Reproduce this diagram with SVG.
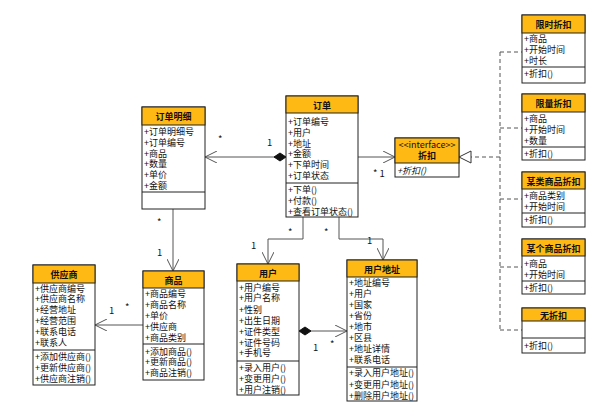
<svg xmlns="http://www.w3.org/2000/svg" width="603" height="402" viewBox="0 0 603 402">
<style>
.box{fill:#fff;stroke:#222;stroke-width:1}
.hd{fill:#FFB915;stroke:#222;stroke-width:1}
.sep{stroke:#222;stroke-width:1}
text{font-family:"Noto Sans CJK SC","DejaVu Sans",sans-serif;font-size:9px;fill:#111}
.t{font-weight:bold;text-anchor:middle}
.it{font-style:italic}
.ln{fill:none;stroke:#555;stroke-width:1}
.dl{fill:none;stroke:#555;stroke-width:1;stroke-dasharray:4,3}
.lb{font-size:9.5px;fill:#111}
</style>
<defs>
<marker id="open" markerWidth="14" markerHeight="12" refX="12" refY="6" orient="auto" markerUnits="userSpaceOnUse"><path d="M0,0 L12,6 L0,12" fill="none" stroke="#555" stroke-width="1"/></marker>
<marker id="dia" markerWidth="16" markerHeight="10" refX="1" refY="5" orient="auto" markerUnits="userSpaceOnUse"><path d="M1,5 L7,1 L13,5 L7,9 Z" fill="#111" stroke="#111"/></marker>
<marker id="tri" markerWidth="14" markerHeight="14" refX="13" refY="7" orient="auto" markerUnits="userSpaceOnUse"><path d="M1,1 L13,7 L1,13 Z" fill="#fff" stroke="#333" stroke-width="1"/></marker>
</defs>

<g id="connectors">
<path class="ln" d="M286,157 L205,157" marker-start="url(#dia)" marker-end="url(#open)"/>
<text class="lb" x="267" y="146">1</text><text class="lb" x="218" y="143">*</text>
<path class="ln" d="M358,157 L395,157" marker-end="url(#open)"/>
<text class="lb" x="373" y="177">* 1</text>
<path class="ln" d="M173,209 L173,271" marker-end="url(#open)"/>
<text class="lb" x="157" y="226">*</text><text class="lb" x="157" y="256">1</text>
<path class="ln" d="M143,325 L95,325" marker-end="url(#open)"/>
<text class="lb" x="109" y="314">1</text><text class="lb" x="125" y="311">*</text>
<path class="ln" d="M303,217 L303,239 L268,239 L268,264" marker-end="url(#open)"/>
<text class="lb" x="288" y="236">*</text><text class="lb" x="251" y="249">1</text>
<path class="ln" d="M339,217 L339,239 L383,239 L383,260" marker-end="url(#open)"/>
<text class="lb" x="324" y="236">*</text><text class="lb" x="367" y="244">1</text>
<path class="ln" d="M299,331 L347,331" marker-start="url(#dia)" marker-end="url(#open)"/>
<text class="lb" x="313" y="351">1</text><text class="lb" x="330" y="348">*</text>
<path class="dl" d="M500,157 L459,157" marker-end="url(#tri)"/>
<path class="dl" d="M500,52 L500,330"/>
<path class="dl" d="M500,52 L522,52 M500,128 L522,128 M500,199 L522,199 M500,267 L522,267 M500,330 L522,330"/>
</g>

<g id="order-detail">
<rect class="box" x="142" y="107" width="63" height="102"/>
<rect class="hd" x="142" y="107" width="63" height="18"/>
<text class="t" x="173.5" y="120">订单明细</text>
<text x="144" y="134.5">+订单明细号</text>
<text x="144" y="145.5">+订单编号</text>
<text x="144" y="156.5">+商品</text>
<text x="144" y="167">+数量</text>
<text x="144" y="177.5">+单价</text>
<text x="144" y="188.5">+金额</text>
<line class="sep" x1="142" y1="192" x2="205" y2="192"/>
</g>

<g id="order">
<rect class="box" x="286" y="96" width="72" height="121"/>
<rect class="hd" x="286" y="96" width="72" height="17"/>
<text class="t" x="322" y="108.5">订单</text>
<text x="288" y="124.5">+订单编号</text>
<text x="288" y="135.5">+用户</text>
<text x="288" y="146.5">+地址</text>
<text x="288" y="157">+金额</text>
<text x="288" y="167.5">+下单时间</text>
<text x="288" y="178.5">+订单状态</text>
<line class="sep" x1="286" y1="183" x2="358" y2="183"/>
<text x="288" y="192.5">+下单()</text>
<text x="288" y="203.5">+付款()</text>
<text x="288" y="214.5">+查看订单状态()</text>
</g>

<g id="discount">
<rect class="box" x="395" y="138" width="64" height="39"/>
<rect class="hd" x="395" y="138" width="64" height="25"/>
<text class="t" x="427" y="148" style="font-weight:normal">&lt;&lt;interface&gt;&gt;</text>
<text class="t" x="427" y="159">折扣</text>
<text class="it" x="397" y="173.5">+折扣()</text>
</g>

<g id="limited-time">
<rect class="box" x="522" y="15" width="63" height="68"/>
<rect class="hd" x="522" y="15" width="63" height="18"/>
<text class="t" x="553.5" y="28">限时折扣</text>
<text x="524" y="41.5">+商品</text>
<text x="524" y="52.5">+开始时间</text>
<text x="524" y="63.5">+时长</text>
<line class="sep" x1="522" y1="67" x2="585" y2="67"/>
<text x="524" y="77">+折扣()</text>
</g>

<g id="limited-qty">
<rect class="box" x="522" y="94" width="63" height="66"/>
<rect class="hd" x="522" y="94" width="63" height="18"/>
<text class="t" x="553.5" y="107">限量折扣</text>
<text x="524" y="121.5">+商品</text>
<text x="524" y="132.5">+开始时间</text>
<text x="524" y="143.5">+数量</text>
<line class="sep" x1="522" y1="147" x2="585" y2="147"/>
<text x="524" y="156.5">+折扣()</text>
</g>

<g id="category-discount">
<rect class="box" x="522" y="172" width="63" height="55"/>
<rect class="hd" x="522" y="172" width="63" height="17"/>
<text class="t" x="553.5" y="184.5">某类商品折扣</text>
<text x="524" y="198.5">+商品类别</text>
<text x="524" y="209.5">+开始时间</text>
<line class="sep" x1="522" y1="213" x2="585" y2="213"/>
<text x="524" y="222.5">+折扣()</text>
</g>

<g id="item-discount">
<rect class="box" x="522" y="239" width="63" height="55"/>
<rect class="hd" x="522" y="239" width="63" height="17"/>
<text class="t" x="553.5" y="251.5">某个商品折扣</text>
<text x="524" y="266.5">+商品</text>
<text x="524" y="277.5">+开始时间</text>
<line class="sep" x1="522" y1="281" x2="585" y2="281"/>
<text x="524" y="290.5">+折扣()</text>
</g>

<g id="no-discount">
<rect class="box" x="522" y="308" width="63" height="45"/>
<rect class="hd" x="522" y="308" width="63" height="13"/>
<text class="t" x="553.5" y="318.5">无折扣</text>
<line class="sep" x1="522" y1="338" x2="585" y2="338"/>
<text x="524" y="348.5">+折扣()</text>
</g>

<g id="supplier">
<rect class="box" x="33" y="265" width="62" height="120"/>
<rect class="hd" x="33" y="265" width="62" height="18"/>
<text class="t" x="64" y="278">供应商</text>
<text x="35" y="291.5">+供应商编号</text>
<text x="35" y="301.5">+供应商名称</text>
<text x="35" y="312.5">+经营地址</text>
<text x="35" y="323.5">+经营范围</text>
<text x="35" y="334.5">+联系电话</text>
<text x="35" y="345.5">+联系人</text>
<line class="sep" x1="33" y1="350" x2="95" y2="350"/>
<text x="35" y="359.5">+添加供应商()</text>
<text x="35" y="370.5">+更新供应商()</text>
<text x="35" y="381.5">+供应商注销()</text>
</g>

<g id="product">
<rect class="box" x="143" y="271" width="61" height="109"/>
<rect class="hd" x="143" y="271" width="61" height="17"/>
<text class="t" x="173.5" y="283.5">商品</text>
<text x="145" y="296.5">+商品编号</text>
<text x="145" y="307.5">+商品名称</text>
<text x="145" y="318.5">+单价</text>
<text x="145" y="329.5">+供应商</text>
<text x="145" y="340.5">+商品类别</text>
<line class="sep" x1="143" y1="344" x2="204" y2="344"/>
<text x="145" y="354.5">+添加商品()</text>
<text x="145" y="364.5">+更新商品()</text>
<text x="145" y="375.5">+商品注销()</text>
</g>

<g id="user">
<rect class="box" x="237" y="264" width="62" height="131"/>
<rect class="hd" x="237" y="264" width="62" height="17"/>
<text class="t" x="268" y="276.5">用户</text>
<text x="239" y="290.5">+用户编号</text>
<text x="239" y="300.5">+用户名称</text>
<text x="239" y="312.5">+性别</text>
<text x="239" y="323.5">+出生日期</text>
<text x="239" y="334.5">+证件类型</text>
<text x="239" y="345.5">+证件号码</text>
<text x="239" y="355.5">+手机号</text>
<line class="sep" x1="237" y1="361" x2="299" y2="361"/>
<text x="239" y="370.5">+录入用户()</text>
<text x="239" y="381.5">+变更用户()</text>
<text x="239" y="392.5">+用户注销()</text>
</g>

<g id="user-address">
<rect class="box" x="347" y="260" width="70" height="141"/>
<rect class="hd" x="347" y="260" width="70" height="17"/>
<text class="t" x="382" y="272.5">用户地址</text>
<text x="349" y="285.5">+地址编号</text>
<text x="349" y="296.5">+用户</text>
<text x="349" y="307.5">+国家</text>
<text x="349" y="318.5">+省份</text>
<text x="349" y="329.5">+地市</text>
<text x="349" y="340.5">+区县</text>
<text x="349" y="351.5">+地址详情</text>
<text x="349" y="362.5">+联系电话</text>
<line class="sep" x1="347" y1="367" x2="417" y2="367"/>
<text x="349" y="375.5">+录入用户地址()</text>
<text x="349" y="387.5">+变更用户地址()</text>
<text x="349" y="398.5">+删除用户地址()</text>
</g>
</svg>
